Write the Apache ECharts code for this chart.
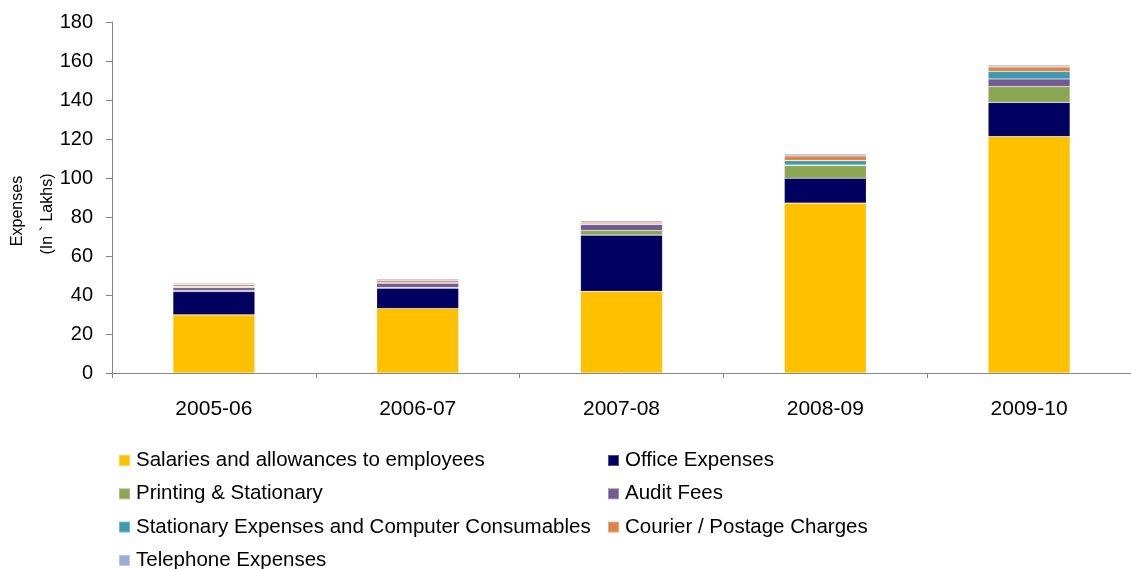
<!DOCTYPE html>
<html>
<head>
<meta charset="utf-8">
<script src="https://cdn.jsdelivr.net/npm/echarts@6/dist/echarts.min.js"></script>
<style>
  html, body { margin: 0; padding: 0; background: #ffffff; }
  #chart { width: 1131px; height: 569px; }
</style>
</head>
<body>
<div id="chart"></div>
<script>
// Financial years on the category axis
const years = ['2005-06', '2006-07', '2007-08', '2008-09', '2009-10'];

// Expense heads (Rs. in lakhs), stacked bottom to top
const salaries   = [29.8, 33.1, 41.9, 87.1, 121.2];
const office     = [12.0, 10.4, 28.8, 12.8, 17.6];
const printing   = [0.5, 0.3, 2.4, 6.5, 8.1];
const audit      = [1.5, 2.2, 3.1, 0.3, 3.9];
const computer   = [0.5, 0.4, 0.3, 2.2, 3.8];
const courier    = [1.0, 1.0, 0.8, 2.4, 2.4];
const telephone  = [0.7, 0.8, 0.8, 1.0, 1.0];

const yTicks = { min: 0, max: 180, interval: 20 };

const seriesDefs = [
  { name: 'Salaries and allowances to employees', data: salaries, color: '#FFC000' },
  { name: 'Office Expenses', data: office, color: '#000060' },
  { name: 'Printing & Stationary', data: printing, color: '#8DA653' },
  { name: 'Audit Fees', data: audit, color: '#735B91' },
  { name: 'Stationary Expenses and Computer Consumables', data: computer, color: '#3F9AB0' },
  { name: 'Courier / Postage Charges', data: courier, color: '#DC8544' },
  { name: 'Telephone Expenses', data: telephone, color: '#9CAED6' }
];

const font = '"Liberation Sans", Arial, sans-serif';
const chart = echarts.init(document.getElementById('chart'));

// Legend laid out as two columns, one legend block per entry
const legendSlots = [
  [118, 0], [607, 0],
  [118, 1], [607, 1],
  [118, 2], [607, 2],
  [118, 3]
];
const legends = seriesDefs.map((s, i) => ({
  left: legendSlots[i][0],
  top: 450 + legendSlots[i][1] * 33.3,
  padding: 0,
  itemWidth: 11, itemHeight: 11, icon: 'rect',
  selectedMode: false,
  textStyle: { fontFamily: font, fontSize: 20.5, color: '#000', padding: [0, 0, 0, 1] },
  data: [s.name]
}));

chart.setOption({
  animation: false,
  grid: { left: 112, top: 22, width: 1031.5, height: 351, containLabel: false },
  legend: legends,
  xAxis: {
    type: 'category',
    data: years,
    axisLine: { lineStyle: { color: '#868686', width: 1 } },
    axisTick: { show: true, length: 5, lineStyle: { color: '#868686' } },
    axisLabel: { fontFamily: font, fontSize: 21, color: '#000', margin: 26 }
  },
  yAxis: {
    type: 'value',
    min: yTicks.min, max: yTicks.max, interval: yTicks.interval,
    splitLine: { show: false },
    axisLine: { show: true, lineStyle: { color: '#868686', width: 1 } },
    axisTick: { show: true, length: 6, lineStyle: { color: '#868686' } },
    axisLabel: { fontFamily: font, fontSize: 20, color: '#000', margin: 19 }
  },
  graphic: [
    {
      type: 'text', x: 18, y: 211, rotation: Math.PI / 2,
      style: { text: 'Expenses', fontFamily: font, fontSize: 16, fill: '#000',
               textAlign: 'center', textVerticalAlign: 'middle' }
    },
    {
      type: 'text', x: 48, y: 214, rotation: Math.PI / 2,
      style: { text: '(In ` Lakhs)', fontFamily: font, fontSize: 16, fill: '#000',
               textAlign: 'center', textVerticalAlign: 'middle' }
    }
  ],
  series: seriesDefs.map(s => ({
    name: s.name,
    type: 'bar',
    stack: 'total',
    barWidth: 82,
    data: s.data,
    itemStyle: { color: s.color, borderColor: 'rgba(255,255,255,0.3)', borderWidth: 0.6 },
    emphasis: { disabled: true }
  }))
});
</script>
</body>
</html>
